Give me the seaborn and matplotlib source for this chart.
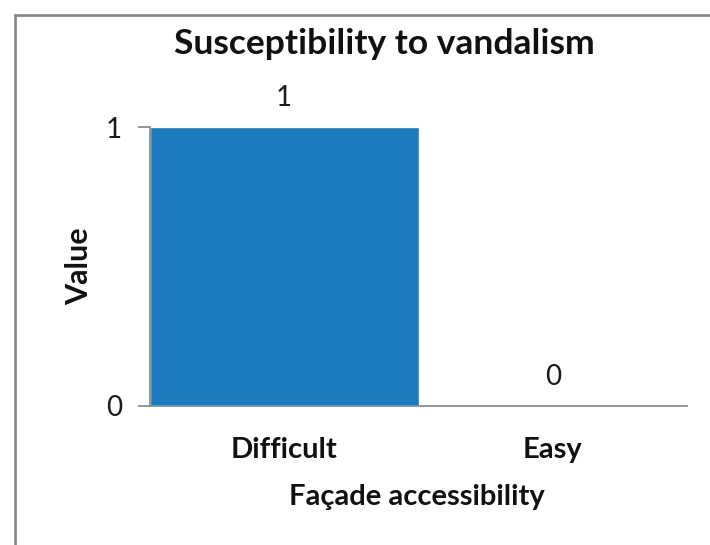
import matplotlib
matplotlib.use("Agg")
import matplotlib.pyplot as plt
import pandas as pd
import seaborn as sns
from matplotlib.patches import Rectangle

categories = ["Difficult", "Easy"]
values = [1, 0]
title = "Susceptibility to vandalism"
x_label = "Façade accessibility"
y_label = "Value"


def main() -> None:
    sns.set_theme(style="white")
    plt.rcParams["font.family"] = ["Lato", "DejaVu Sans"]

    data = pd.DataFrame({"category": categories, "value": values})

    fig = plt.figure(figsize=(7.1, 5.45), dpi=100)
    # plot area: x 150..687 px, y 127..406 px
    ax = fig.add_axes([150 / 710, 1 - 406 / 545, 537 / 710, 279 / 545])

    sns.barplot(data=data, x="category", y="value", color="#1c7bbd",
                width=1.0, saturation=1, ax=ax)

    ax.set_xlim(-0.5, 1.5)
    ax.set_ylim(0, 1)
    ax.set_yticks([0, 1])
    ax.set_yticklabels(["0", "1"])

    for spine in ["top", "right"]:
        ax.spines[spine].set_visible(False)
    for spine in ["left", "bottom"]:
        ax.spines[spine].set_color("#8c8c8c")
        ax.spines[spine].set_linewidth(1.3)

    ax.tick_params(axis="y", left=True, length=9, width=1.3, color="#8c8c8c",
                   labelsize=20, pad=11, labelcolor="#1a1a1a")
    ax.tick_params(axis="x", bottom=False, labelsize=21, pad=16, labelcolor="#111111")
    for lbl in ax.get_xticklabels():
        lbl.set_fontweight("bold")

    for i, v in enumerate(values):
        ax.text(i, v + 0.105, str(v), ha="center", va="center", fontsize=20,
                color="#1a1a1a", clip_on=False)

    fig.text(384 / 710, 1 - 44 / 545, title, ha="center", va="center",
             fontsize=25.5, fontweight="bold", color="#111111")

    ax.set_xlabel(x_label, fontsize=21, fontweight="bold", color="#111111")
    ax.xaxis.set_label_coords(0.497, -0.28)
    ax.set_ylabel(y_label, fontsize=22, fontweight="bold", color="#111111")
    ax.yaxis.set_label_coords(-0.105, 0.5)

    # chart frame (continues past the right and bottom edges)
    fig.patches.append(Rectangle((15 / 710, -0.05), 1.0, 1 - 15 / 545 + 0.05,
                                 transform=fig.transFigure, fill=False,
                                 edgecolor="#8a8a8a", linewidth=2.0))

    fig.savefig("out.png", dpi=100)
    plt.close(fig)


if __name__ == "__main__":
    main()
